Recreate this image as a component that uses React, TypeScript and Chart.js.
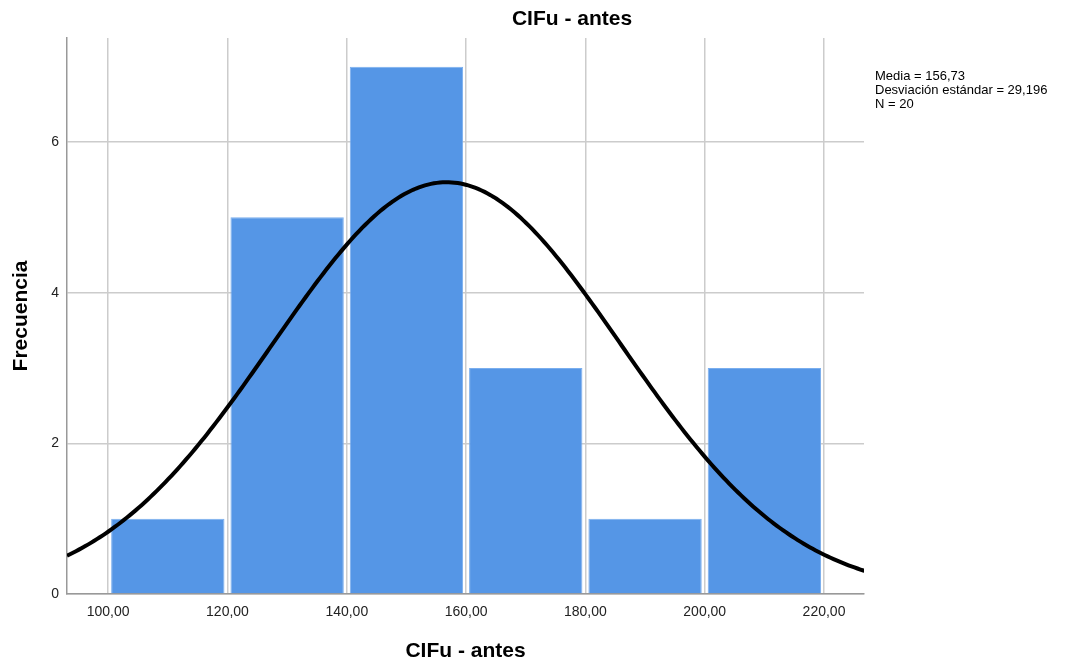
import React, { useEffect, useRef } from "react";
import { Chart, registerables } from "chart.js";

Chart.register(...registerables);

const binCenters = [110, 130, 150, 170, 190, 210];
const binCounts = [1, 5, 7, 3, 1, 3];
const xTicks = [100, 120, 140, 160, 180, 200, 220];
const yTicks = [0, 2, 4, 6];
const meanValue = 156.73;
const sdValue = 29.196;
const nValue = 20;
const binWidth = 20;
const xMin = 93.1;
const xMax = 226.7;
const yMax = 7.38;
const titleText = "CIFu - antes";
const xTitle = "CIFu - antes";
const yTitle = "Frecuencia";
const statLines = ["Media = 156,73", "Desviación estándar = 29,196", "N = 20"];

// fitted normal curve defined by the displayed statistics
const curveX: number[] = [];
for (let v = xMin; v <= xMax + 0.5; v += 0.5) curveX.push(v);
const curvePoints = curveX.map((v) => ({
  x: v,
  y:
    ((nValue * binWidth) / (sdValue * Math.sqrt(2 * Math.PI))) *
    Math.exp(-0.5 * Math.pow((v - meanValue) / sdValue, 2)),
}));

const FONT = '"Liberation Sans", Arial, sans-serif';

export default function App() {
  const ref = useRef<HTMLCanvasElement | null>(null);
  useEffect(() => {
    if (!ref.current) return;
    const textPlugin = {
      id: "texts",
      afterDraw(chart: any) {
        const ctx = chart.ctx;
        const a = chart.chartArea;
        ctx.save();
        ctx.fillStyle = "#000";
        ctx.textAlign = "center";
        ctx.textBaseline = "middle";
        ctx.font = `bold 21px ${FONT}`;
        ctx.fillText(titleText, 572, 19);
        ctx.fillText(xTitle, (a.left + a.right) / 2, 651);
        ctx.save();
        ctx.translate(21, (a.top + a.bottom) / 2);
        ctx.rotate(-Math.PI / 2);
        ctx.fillText(yTitle, 0, 0);
        ctx.restore();
        ctx.textAlign = "left";
        ctx.font = `13px ${FONT}`;
        statLines.forEach((s, i) => ctx.fillText(s, 875, 76 + i * 14.2));
        ctx.restore();
      },
    };
    const chart = new Chart(ref.current, {
      type: "bar",
      data: {
        datasets: [
          {
            type: "line",
            data: curvePoints,
            borderColor: "#000",
            borderWidth: 4,
            pointRadius: 0,
            fill: false,
            tension: 0,
            order: 0,
          } as any,
          {
            type: "bar",
            data: binCenters.map((c, i) => ({ x: c, y: binCounts[i] })),
            backgroundColor: "#5596e6",
            borderColor: "#7aaeee",
            borderWidth: 1,
            barPercentage: 0.95,
            categoryPercentage: 1,
            order: 1,
          } as any,
        ],
      },
      options: {
        animation: false,
        responsive: false,
        maintainAspectRatio: false,
        layout: { padding: { left: 0, top: 38, right: 217, bottom: 0 } },
        plugins: { legend: { display: false }, tooltip: { enabled: false }, title: { display: false } },
        scales: {
          x: {
            type: "linear",
            min: xMin,
            max: xMax,
            offset: false,
            afterBuildTicks: (s: any) => {
              s.ticks = xTicks.map((v) => ({ value: v }));
            },
            afterFit: (s: any) => {
              s.height = 73;
            },
            ticks: {
              font: { family: FONT, size: 14 },
              color: "#222",
              padding: 10,
              maxRotation: 0,
              autoSkip: false,
              callback: (v: any) => Number(v).toFixed(2).replace(".", ","),
            },
            grid: { color: "#cccccc", lineWidth: 1.5, drawTicks: false, offset: false },
            border: { color: "#999999", width: 1.5 },
          },
          y: {
            type: "linear",
            min: 0,
            max: yMax,
            afterBuildTicks: (s: any) => {
              s.ticks = yTicks.map((v) => ({ value: v }));
            },
            afterFit: (s: any) => {
              s.width = 67;
            },
            ticks: {
              font: { family: FONT, size: 14 },
              color: "#222",
              padding: 8,
              callback: (v: any) => String(v),
            },
            grid: { color: "#cccccc", lineWidth: 1.5, drawTicks: false },
            border: { color: "#999999", width: 1.5 },
          },
        },
      },
      plugins: [textPlugin],
    });
    return () => chart.destroy();
  }, []);
  return (
    <div style={{ position: "fixed", left: 0, top: 0, width: 1081, height: 667, background: "#fff" }}>
      <canvas ref={ref} width={1081} height={667} style={{ width: 1081, height: 667 }} />
    </div>
  );
}
